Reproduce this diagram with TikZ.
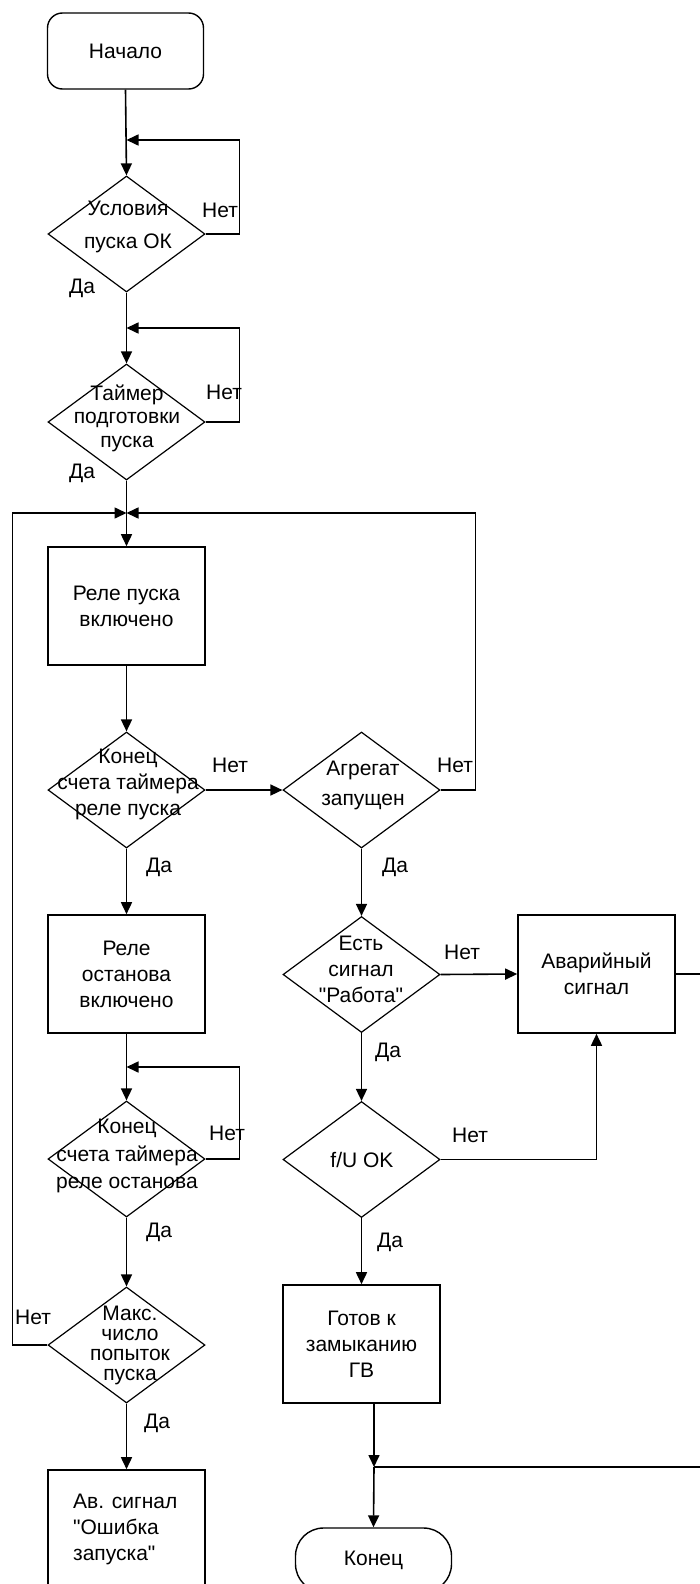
\documentclass[tikz,border=0pt]{standalone}
\usepackage{fontspec}
\setmainfont{Liberation Sans}[Ligatures=TeXOff]
\usetikzlibrary{arrows.meta,shapes.geometric,calc}
\tikzset{
  conn/.style={line width=1.6pt},
  arr/.style={conn,-{Triangle[length=12pt,width=11pt]}},
  dec/.style={draw, diamond, line width=1.2pt, minimum width=157pt, minimum height=116pt, inner sep=0pt},
  proc/.style={draw, rectangle, line width=1.6pt, minimum width=157pt, minimum height=118pt, inner sep=0pt, align=center, font=\fontsize{21}{26}\selectfont},
  term/.style={draw, rectangle, line width=1.4pt, minimum width=156pt, inner sep=0pt, font=\fontsize{21}{24}\selectfont},
  txt/.style={font=\fontsize{21}{26}\selectfont, align=center, inner sep=0pt},
  lbl/.style={font=\fontsize{21}{24}\selectfont, inner sep=0pt},
}
\begin{document}
\begin{tikzpicture}[x=1pt,y=-1pt]
\useasboundingbox (0,0) rectangle (700,1584);
\clip (0,0) rectangle (700,1584);

% left column
\node[term, rounded corners=15pt, minimum height=76pt] (start) at (125.5,51) {Начало};
\node[dec] (d1) at (126.5,234) {};
\node[txt, font=\fontsize{21}{33}\selectfont] (d1t) at (128,227) {Условия\\пуска ОК};
\coordinate (j1) at (126.5,140);
\node[dec] (d2) at (126.5,422) {};
\node[txt, font=\fontsize{21}{23.5}\selectfont] (d2t) at (127,418) {Таймер\\подготовки\\пуска};
\coordinate (j2) at (126.5,328);
\coordinate (j3) at (126.5,513);
\node[proc] (b1) at (126.5,606) {Реле пуска\\включено};
\node[dec] (d3) at (126.5,790) {};
\node[txt] (d3t) at (128,784) {Конец\\счета таймера\\реле пуска};
\node[proc] (b2) at (126.5,974) {Реле\\останова\\включено};
\coordinate (j4) at (126.5,1067);
\node[dec] (d7) at (126.5,1159) {};
\node[txt, font=\fontsize{21}{27.5}\selectfont] (d7t) at (127,1156) {Конец\\счета таймера\\реле останова};
\node[dec] (d8) at (126.5,1345) {};
\node[txt, font=\fontsize{21}{20}\selectfont] (d8t) at (130,1345) {Макс.\\число\\попыток\\пуска};
\node[proc] (b3) at (126.5,1529) {};
\node[txt, align=left, anchor=west] (b3t) at (73,1529) {Ав. сигнал\\"Ошибка\\запуска"};

% right column
\node[dec] (d4) at (361.5,790) {};
\node[txt, font=\fontsize{21}{30}\selectfont] (d4t) at (363,785) {Агрегат\\запущен};
\node[dec] (d5) at (361.5,974.5) {};
\node[txt] (d5t) at (361,969) {Есть\\сигнал\\"Работа"};
\node[proc] (alarm) at (596.5,974) {Аварийный\\сигнал};
\node[dec] (d6) at (361.5,1159.5) {};
\node[txt] (d6t) at (362,1160) {f/U OK};
\node[proc] (ready) at (361.5,1344) {Готов к\\замыканию\\ГВ};
\coordinate (j5) at (374,1467);
\node[term, rounded corners=28pt, minimum height=64pt] (end) at (373.5,1560) {Конец};

% labels
\node[lbl] (l1n) at (220,210) {Нет};
\node[lbl] (l1d) at (82,288) {Да};
\node[lbl] (l2n) at (224,392) {Нет};
\node[lbl] (l2d) at (82,473) {Да};
\node[lbl] (l3n) at (230,765) {Нет};
\node[lbl] (l3d) at (159,867) {Да};
\node[lbl] (l4n) at (455,765) {Нет};
\node[lbl] (l4d) at (395,867) {Да};
\node[lbl] (l5n) at (462,952) {Нет};
\node[lbl] (l5d) at (388,1052) {Да};
\node[lbl] (l6n) at (470,1135) {Нет};
\node[lbl] (l6d) at (390,1242) {Да};
\node[lbl] (l7n) at (227,1133) {Нет};
\node[lbl] (l7d) at (159,1232) {Да};
\node[lbl] (l8n) at (33,1317) {Нет};
\node[lbl] (l8d) at (157,1423) {Да};

% connectors
\draw[arr] (start.south) -- (d1.north);
\draw[arr] (d1.east) -- ++(34,0) |- (j1);
\draw[arr] (d1.south) -- (d2.north);
\draw[arr] (d2.east) -- ++(34,0) |- (j2);
\draw[arr] (d2.south) -- (b1.north);
\draw[arr] (d8.west) -- ++(-35,0) |- (j3);
\draw[arr] (d4.east) -- ++(35,0) |- (j3);
\draw[arr] (b1.south) -- (d3.north);
\draw[arr] (d3.east) -- (d4.west);
\draw[arr] (d3.south) -- (b2.north);
\draw[arr] (d4.south) -- (d5.north);
\draw[arr] (d5.east) -- (alarm.west);
\draw[arr] (d5.south) -- (d6.north);
\draw[arr] (d6.east) -| (alarm.south);
\draw[arr] (d6.south) -- (ready.north);
\draw[arr] (b2.south) -- (d7.north);
\draw[arr] (d7.east) -- ++(34,0) |- (j4);
\draw[arr] (d7.south) -- (d8.north);
\draw[arr] (d8.south) -- (b3.north);
\draw[arr] (ready.south -| j5) -- (j5);
\draw[arr] (j5) -- (end.north);
\draw[conn] (alarm.east) -- ++(80,0) |- (j5);
\end{tikzpicture}
\end{document}
